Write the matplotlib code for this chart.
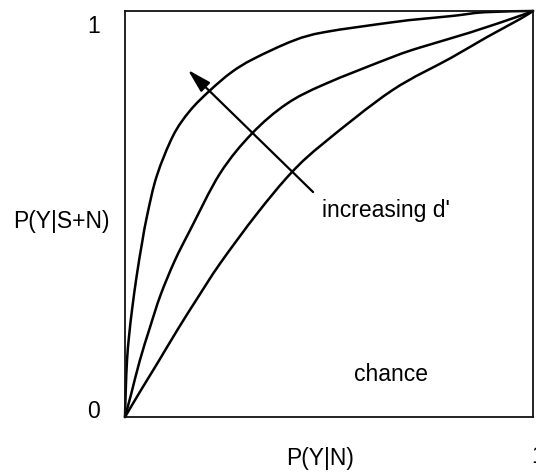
import matplotlib
matplotlib.use("Agg")
import numpy as np
import matplotlib.pyplot as plt
from matplotlib.path import Path
from matplotlib.patches import PathPatch

# ROC curves: hit rate P(Y|S+N) against false-alarm rate P(Y|N)
roc_high_x = [0, 0.002, 0.005, 0.010, 0.018, 0.029, 0.042, 0.055, 0.078, 0.118,
              0.159, 0.208, 0.261, 0.315, 0.413, 0.490, 0.654, 0.723, 0.805, 0.882, 1.0]
roc_high_y = [0, 0.07, 0.14, 0.20, 0.27, 0.35, 0.43, 0.500, 0.594, 0.693,
              0.754, 0.804, 0.849, 0.882, 0.927, 0.948, 0.972, 0.980, 0.988, 0.997, 1.0]

roc_mid_x = [0, 0.015, 0.036, 0.061, 0.087, 0.122, 0.161, 0.233, 0.311,
             0.396, 0.490, 0.654, 0.723, 0.846, 0.968, 1.0]
roc_mid_y = [0, 0.056, 0.138, 0.220, 0.300, 0.385, 0.463, 0.600, 0.698,
             0.771, 0.820, 0.886, 0.910, 0.947, 0.988, 1.0]

roc_low_x = [0, 0.036, 0.081, 0.130, 0.179, 0.233, 0.323, 0.409, 0.490, 0.654,
             0.800, 0.886, 0.968, 1.0]
roc_low_y = [0, 0.061, 0.135, 0.217, 0.295, 0.378, 0.500, 0.603, 0.677, 0.804,
             0.885, 0.935, 0.980, 1.0]

# arrow across the curves, pointing towards higher d'
arrow_tail = (0.461, 0.554)
arrow_head = (0.154, 0.855)

plt.rcParams['font.family'] = ['Liberation Sans', 'DejaVu Sans']
FS = 16.5


def smooth_path(xs, ys):
    """Cubic Bezier path through the points (Catmull-Rom tangents)."""
    p = np.column_stack([xs, ys])
    ext = np.vstack([p[0], p, p[-1]])
    verts = [p[0]]
    codes = [Path.MOVETO]
    for i in range(len(p) - 1):
        p0, p1, p2, p3 = ext[i], ext[i + 1], ext[i + 2], ext[i + 3]
        verts += [p1 + (p2 - p0) / 6, p2 - (p3 - p1) / 6, p2]
        codes += [Path.CURVE4] * 3
    return Path(verts, codes)


fig = plt.figure(figsize=(5.36, 4.77), dpi=100)
ax = fig.add_axes([0.2332, 0.1237, 0.7612, 0.8512])
ax.set_xlim(0, 1)
ax.set_ylim(0, 1)
ax.set_xticks([])
ax.set_yticks([])
for sp in ax.spines.values():
    sp.set_linewidth(1.3)
    sp.set_color('#111111')

for xs, ys in [(roc_high_x, roc_high_y), (roc_mid_x, roc_mid_y), (roc_low_x, roc_low_y)]:
    ax.add_patch(PathPatch(smooth_path(xs, ys), facecolor='none', edgecolor='black',
                           lw=1.8, capstyle='round', clip_on=False))

ax.annotate('', xy=arrow_head, xytext=arrow_tail,
            arrowprops=dict(arrowstyle='-|>,head_length=0.8,head_width=0.22',
                            mutation_scale=18, color='black', lw=1.6,
                            shrinkA=0, shrinkB=0))

ax.text(0.484, 0.495, "increasing d'", transform=ax.transAxes, fontsize=FS,
        ha='left', va='baseline')
ax.text(0.561, 0.091, 'chance', transform=ax.transAxes, fontsize=FS,
        ha='left', va='baseline')

# axis labels and end values
ax.text(-0.061, 0.948, '1', transform=ax.transAxes, fontsize=FS, ha='right', va='baseline')
ax.text(-0.061, 0.0, '0', transform=ax.transAxes, fontsize=FS, ha='right', va='baseline')
ax.text(0.995, -0.111, '1', transform=ax.transAxes, fontsize=FS, ha='left',
        va='baseline', clip_on=False)
ax.text(-0.275, 0.468, 'P(Y|S+N)', transform=ax.transAxes, fontsize=FS,
        ha='left', va='baseline')
ax.text(0.478, -0.116, 'P(Y|N)', transform=ax.transAxes, fontsize=FS,
        ha='center', va='baseline')

fig.savefig('out.png', dpi=100)
